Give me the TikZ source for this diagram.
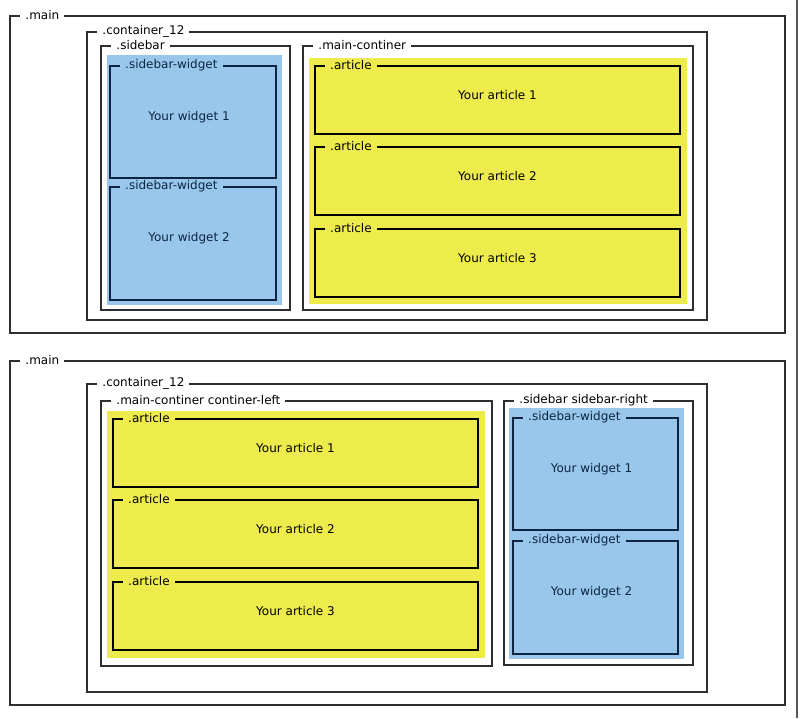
\documentclass[tikz,border=0pt]{standalone}
\usepackage{fontspec}
\setmainfont{DejaVu Sans}
\usetikzlibrary{fit, positioning}
\definecolor{widgetblue}{RGB}{153,199,236}
\definecolor{articleyellow}{RGB}{238,236,77}
\definecolor{widgetline}{RGB}{12,38,66}
\definecolor{framegray}{RGB}{45,45,50}
\tikzset{
    frame/.style={draw=framegray, line width=1.5pt, inner sep=0pt}, % outer containers
    panel/.style={draw=none, inner sep=0pt}, % coloured backgrounds
    widget/.style={draw=widgetline, line width=2pt, inner sep=0pt},
    article/.style={draw=black, line width=2pt, inner sep=0pt},
    tag/.style={anchor=west, inner xsep=5pt, inner ysep=0pt}, % label cutting the top edge
    wtext/.style={text=widgetline},
}

\begin{document}
\begin{tikzpicture}[x=1pt, y=-1pt, font=\fontsize{12}{14}\selectfont]
    \useasboundingbox (0,0) rectangle (800,718);

    % Layout 1: sidebar left
    \node[panel, fill=widgetblue, fit={(107,55) (282,305)}] (sbfill1) {};
    \node[panel, fill=articleyellow, fit={(309,58) (687,304)}] (mcfill1) {};

    \node[frame, fit={(10,16) (785,333)}] (main1) {};
    \node[tag, fill=white] (main1-tag) at ([xshift=11pt]main1.north west) {.main};
    \node[frame, fit={(87,32) (707,320)}] (cont1) {};
    \node[tag, fill=white] (cont1-tag) at ([xshift=11pt]cont1.north west) {.container\_12};
    \node[frame, fit={(101,46) (290,310)}] (side1) {};
    \node[tag, fill=white] (side1-tag) at ([xshift=11pt]side1.north west) {.sidebar};
    \node[frame, fit={(303,46) (693,310)}] (mc1) {};
    \node[tag, fill=white] (mc1-tag) at ([xshift=11pt]mc1.north west) {.main-continer};

    \foreach \i/\t/\b in {1/66/178, 2/187/300} {
        \node[widget, fit={(110,\t) (276,\b)}] (wid1-\i) {};
        \node[tag, fill=widgetblue, text=widgetline] (wid1-\i-tag) at ([xshift=11pt]wid1-\i.north west) {.sidebar-widget};
        \node[wtext] (wid1-\i-text) at ([shift={(-4pt,5pt)}]wid1-\i.center) {Your widget \i};
    }
    \foreach \i/\t in {1/66, 2/147, 3/229} {
        \node[article, fit={(315,\t) (680,\t+68)}] (art1-\i) {Your article \i};
        \node[tag, fill=articleyellow] (art1-\i-tag) at ([xshift=11pt]art1-\i.north west) {.article};
    }

    % Layout 2: sidebar right
    \node[panel, fill=articleyellow, fit={(107,411) (485,658)}] (mcfill2) {};
    \node[panel, fill=widgetblue, fit={(509,408) (684,659)}] (sbfill2) {};

    \node[frame, fit={(10,361) (785,705)}] (main2) {};
    \node[tag, fill=white] (main2-tag) at ([xshift=11pt]main2.north west) {.main};
    \node[frame, fit={(87,384) (707,692)}] (cont2) {};
    \node[tag, fill=white] (cont2-tag) at ([xshift=11pt]cont2.north west) {.container\_12};
    \node[frame, fit={(101,401) (492,666)}] (mc2) {};
    \node[tag, fill=white] (mc2-tag) at ([xshift=11pt]mc2.north west) {.main-continer continer-left};
    \node[frame, fit={(504,401) (693,665)}] (side2) {};
    \node[tag, fill=white] (side2-tag) at ([xshift=11pt]side2.north west) {.sidebar sidebar-right};

    \foreach \i/\t in {1/419, 2/500, 3/582} {
        \node[article, fit={(113,\t) (478,\t+68)}] (art2-\i) {Your article \i};
        \node[tag, fill=articleyellow] (art2-\i-tag) at ([xshift=11pt]art2-\i.north west) {.article};
    }
    \foreach \i/\t/\b in {1/418/530, 2/541/654} {
        \node[widget, fit={(513,\t) (678,\b)}] (wid2-\i) {};
        \node[tag, fill=widgetblue, text=widgetline] (wid2-\i-tag) at ([xshift=11pt]wid2-\i.north west) {.sidebar-widget};
        \node[wtext] (wid2-\i-text) at ([shift={(-4pt,5pt)}]wid2-\i.center) {Your widget \i};
    }

    % right border of the page
    \coordinate (edge-top) at (797,0);
    \coordinate (edge-bot) at (797,718);
    \draw[framegray!80, line width=1.5pt] (edge-top) -- (edge-bot);

\end{tikzpicture}
\end{document}
